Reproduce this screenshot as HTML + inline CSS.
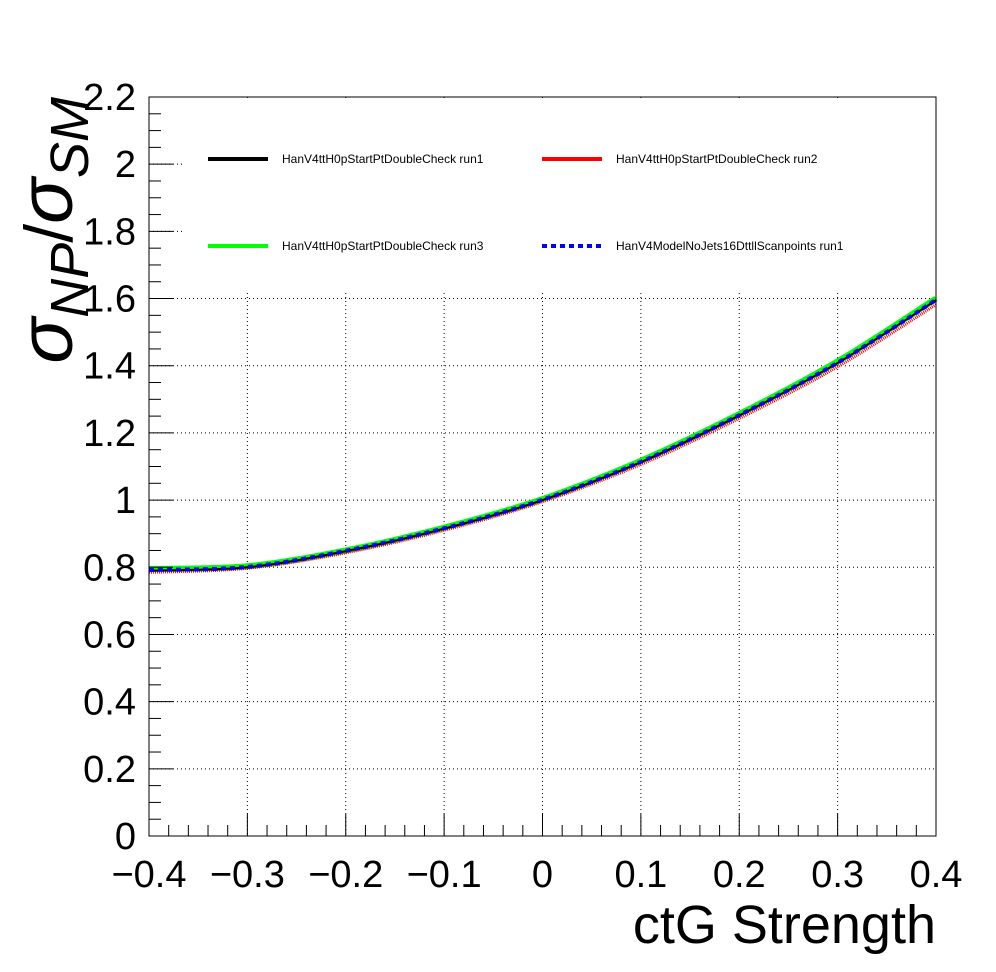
<!DOCTYPE html>
<html><head><meta charset="utf-8"><style>
body{margin:0;background:#fff;}
svg{display:block;font-family:"Liberation Sans",Arial,sans-serif;}
</style></head><body>
<svg id="chart" width="996" height="972" viewBox="0 0 996 972">
<rect width="996" height="972" fill="#fff"/>
<g id="grid"></g>
<rect id="legendbg" x="182" y="98" width="753" height="192" fill="#fff"/>
<g id="series"></g>
<rect x="149" y="97" width="787" height="739" fill="none" stroke="#000" stroke-width="1"/>
<g id="axes"></g>
<g font-size="12">
 <line x1="208" y1="159" x2="268" y2="159" stroke="#000" stroke-width="4"/>
 <text x="282" y="163">HanV4ttH0pStartPtDoubleCheck run1</text>
 <line x1="542" y1="159" x2="602" y2="159" stroke="#f00" stroke-width="4"/>
 <text x="616" y="163">HanV4ttH0pStartPtDoubleCheck run2</text>
 <line x1="208" y1="246" x2="268" y2="246" stroke="#0f0" stroke-width="4"/>
 <text x="282" y="250">HanV4ttH0pStartPtDoubleCheck run3</text>
 <line x1="542" y1="246" x2="602" y2="246" stroke="#00f" stroke-width="4" stroke-dasharray="5,4"/>
 <text x="616" y="250">HanV4ModelNoJets16DttllScanpoints run1</text>
</g>
<text x="936" y="943" font-size="54" text-anchor="end">ctG Strength</text>
<g transform="translate(72,97) rotate(-90)">
 <text x="0" y="0" font-size="76" text-anchor="end"><tspan font-style="italic">σ</tspan><tspan font-size="54" dy="16" font-style="italic">NP</tspan><tspan dy="-16" font-size="68">/</tspan><tspan font-style="italic" font-size="76">σ</tspan><tspan font-size="54" dy="16" font-style="italic">SM</tspan></text>
</g>
</svg>
<script>
const xs=[-0.4,-0.3,-0.2,-0.1,0,0.1,0.2,0.3,0.4];
const run1=[0.79,0.80,0.848,0.915,1.0,1.113,1.252,1.408,1.595];
const run2=[0.785,0.797,0.843,0.91,0.995,1.106,1.243,1.397,1.582];
const run3=[0.795,0.803,0.85,0.918,1.003,1.117,1.256,1.413,1.6];
const scan=[0.792,0.801,0.849,0.916,1.001,1.114,1.253,1.409,1.596];
const xTicks=["\u22120.4","\u22120.3","\u22120.2","\u22120.1","0","0.1","0.2","0.3","0.4"];
const yTicks=["0","0.2","0.4","0.6","0.8","1","1.2","1.4","1.6","1.8","2","2.2"];
const X0=149,X1=936,Y0=836,Y1=97;
const sx=v=>X0+(v+0.4)/0.8*(X1-X0);
const sy=v=>Y0-v/2.2*(Y0-Y1);
const NS="http://www.w3.org/2000/svg";
function mk(t,a,p){const e=document.createElementNS(NS,t);for(const k in a)e.setAttribute(k,a[k]);p.appendChild(e);return e;}
const grid=document.getElementById('grid'),axes=document.getElementById('axes'),ser=document.getElementById('series');
xTicks.forEach((t,i)=>{const v=-0.4+i*0.1,x=sx(v);
 const g=mk('line',{x1:x,x2:x,y1:Y1,y2:Y0,stroke:'#000','stroke-width':1,'stroke-dasharray':'1,3'},grid);
 
 
 const tk=mk('line',{x1:x,x2:x,y1:Y0,y2:Y0-22,stroke:'#000'},axes);
 
 
 const tx=mk('text',{x:x,y:887,'font-size':38,'text-anchor':'middle'},axes);tx.textContent=t;
 
 
 if(i<8)for(let j=1;j<5;j++){const xm=sx(v+j*0.02);const m=mk('line',{x1:xm,x2:xm,y1:Y0,y2:Y0-11,stroke:'#000'},axes);
  
  }
});
yTicks.forEach((t,i)=>{const v=i*0.2,y=sy(v);
 const g=mk('line',{x1:X0,x2:X1,y1:y,y2:y,stroke:'#000','stroke-width':1,'stroke-dasharray':'1,3'},grid);
 
 
 const tk=mk('line',{x1:X0,x2:X0+24,y1:y,y2:y,stroke:'#000'},axes);
 
 
 const tx=mk('text',{x:136,y:y+13,'font-size':38,'text-anchor':'end'},axes);tx.textContent=t;
 
 
 if(i<11)for(let j=1;j<4;j++){const ym=sy(v+j*0.05);const m=mk('line',{x1:X0,x2:X0+12,y1:ym,y2:ym,stroke:'#000'},axes);
  
  }
});
function curve(ys){let d='';const px=xs.map(sx),py=ys.map(sy);
 d='M'+px[0]+','+py[0];
 for(let i=0;i<xs.length-1;i++){const p0=i>0?i-1:i,p3=i+2<xs.length?i+2:i+1;
  const c1x=px[i]+(px[i+1]-px[p0])/6,c1y=py[i]+(py[i+1]-py[p0])/6,c2x=px[i+1]-(px[p3]-px[i])/6,c2y=py[i+1]-(py[p3]-py[i])/6;
  d+=` C${c1x},${c1y} ${c2x},${c2y} ${px[i+1]},${py[i+1]}`;}
 return d;}
const s3=mk('path',{d:curve(run3),fill:'none',stroke:'#0f0','stroke-width':6},ser);


const s2=mk('path',{d:curve(run2),fill:'none',stroke:'#f00','stroke-width':3,'stroke-dasharray':'1,1'},ser);


const s1=mk('path',{d:curve(run1),fill:'none',stroke:'#000','stroke-width':2},ser);


const s4=mk('path',{d:curve(scan),fill:'none',stroke:'#00f','stroke-width':4,'stroke-dasharray':'5,4'},ser);


</script>
</body></html>
